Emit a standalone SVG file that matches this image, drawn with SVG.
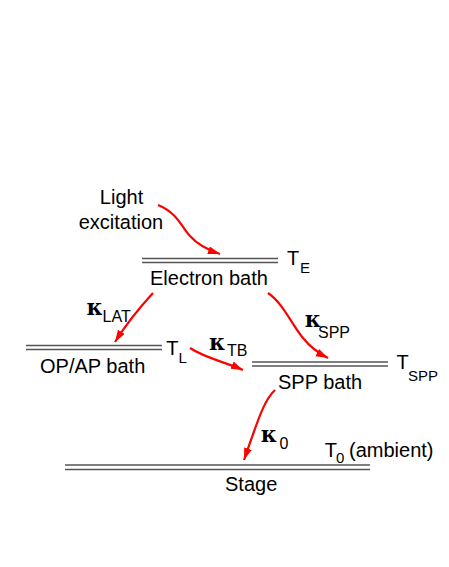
<svg xmlns="http://www.w3.org/2000/svg" width="449" height="567" viewBox="0 0 449 567">
<style>
text{font-family:"Liberation Sans",Arial,sans-serif;fill:#000}
.lbl{font-size:20px}
.sub{font-size:15px}
.ksub{font-size:16px}
.k{font-family:"DejaVu Serif","Liberation Serif",serif;font-weight:bold;font-size:22px}
.bath{stroke:#555;stroke-width:1.3;fill:none}
.arr{stroke:#ff0000;stroke-width:2.2;fill:none;marker-end:url(#ah)}
</style>
<defs>
<marker id="ah" markerUnits="userSpaceOnUse" markerWidth="14" markerHeight="10" refX="12" refY="4" orient="auto">
<path d="M0,0 L12,4 L0,8 z" fill="#ff0000"/>
</marker>
</defs>
<rect width="449" height="567" fill="#fff"/>
<g id="light">
<text class="lbl" x="121.5" y="204" text-anchor="middle">Light</text>
<text class="lbl" x="121" y="228.5" text-anchor="middle">excitation</text>
</g>
<g id="electron-bath">
<line class="bath" x1="142" y1="258.5" x2="278" y2="258.5"/>
<line class="bath" x1="142" y1="262.5" x2="278" y2="262.5"/>
<text class="lbl" x="150" y="285">Electron bath</text>
<text class="lbl" x="287" y="265">T</text>
<text class="sub" x="300" y="273.3">E</text>
</g>
<g id="opap-bath">
<line class="bath" x1="26" y1="345.5" x2="162" y2="345.5"/>
<line class="bath" x1="26" y1="349.5" x2="162" y2="349.5"/>
<text class="lbl" x="40" y="373.3">OP/AP bath</text>
<text class="lbl" x="166.3" y="355">T</text>
<text class="sub" x="178.5" y="363">L</text>
</g>
<g id="spp-bath">
<line class="bath" x1="252" y1="362" x2="388" y2="362"/>
<line class="bath" x1="252" y1="366" x2="388" y2="366"/>
<text class="lbl" x="278" y="389">SPP bath</text>
<text class="lbl" x="396.5" y="369.3">T</text>
<text class="sub" x="408" y="381">SPP</text>
</g>
<g id="stage">
<line class="bath" x1="65" y1="465" x2="370" y2="465"/>
<line class="bath" x1="65" y1="469.5" x2="370" y2="469.5"/>
<text class="lbl" x="225" y="491">Stage</text>
<text class="lbl" x="324.7" y="456.7">T</text>
<text class="sub" x="336" y="462.7">0</text>
<text class="lbl" x="349" y="456.7">(ambient)</text>
</g>
<g id="connectors">
<path class="arr" d="M158,205 C178,213 182,228 190,236 C198,245 208,250 220,254"/>
<path class="arr" d="M153,293 Q130,318 115,342"/>
<path class="arr" d="M268,293 C283,303 292,325 303,338 C311,348 320,354 328,358"/>
<path class="arr" d="M190,348 C205,358 225,362 243,370"/>
<path class="arr" d="M275,390 C264,400 258,420 244,460"/>
<text class="k" x="86.5" y="315">κ</text>
<text class="ksub" x="102.5" y="322.3">LAT</text>
<text class="k" x="209" y="350">κ</text>
<text class="ksub" x="227" y="355.7">TB</text>
<text class="k" x="304.8" y="326.7">κ</text>
<text class="ksub" x="318" y="338.3">SPP</text>
<text class="k" x="260.8" y="442.3">κ</text>
<text class="ksub" x="279.5" y="449.3">0</text>
</g>
</svg>
